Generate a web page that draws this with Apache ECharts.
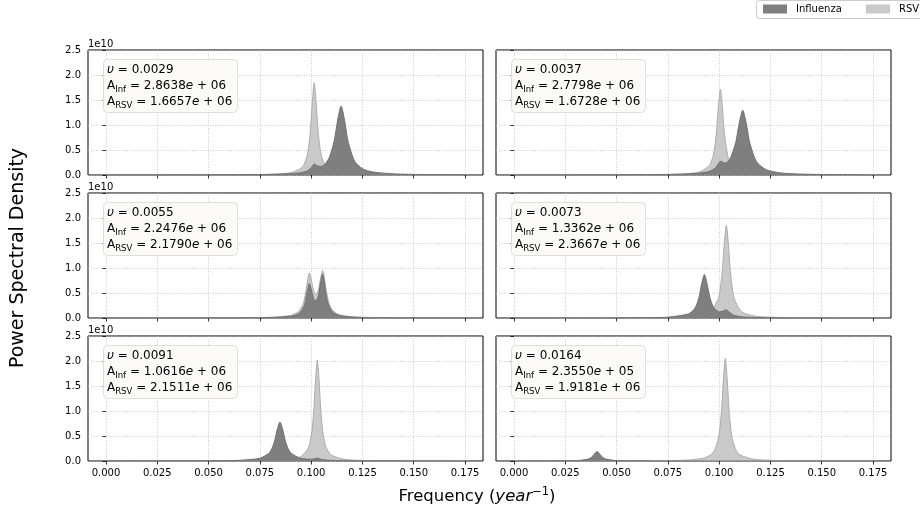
<!DOCTYPE html>
<html>
<head>
<meta charset="utf-8">
<script src="https://cdn.jsdelivr.net/npm/echarts@6/dist/echarts.min.js"></script>
<style>
  html, body { margin: 0; padding: 0; background: #ffffff; }
  #chart { width: 920px; height: 512px; }
</style>
</head>
<body>
<div id="chart"></div>
<script>
// Per-panel parameters: coupling strength and amplitudes of the two pathogens
const PANEL_NU = [0.0029, 0.0037, 0.0055, 0.0073, 0.0091, 0.0164];
const PANEL_A_INF = [2.8638e6, 2.7798e6, 2.2476e6, 1.3362e6, 1.0616e6, 2.3550e5];
const PANEL_A_RSV = [1.6657e6, 1.6728e6, 2.1790e6, 2.3667e6, 2.1511e6, 1.9181e6];

const SERIES_NAMES = ['Influenza', 'RSV'];
const Y_TICKS = [0, 0.5, 1.0, 1.5, 2.0, 2.5];   // in units of 1e10
const X_TICK_STEP = 0.025;                       // frequency tick spacing (1/year)

// Power spectral densities, [frequency, PSD / 1e10]
const inf1 = [[0,0.001],[0.03,0.002],[0.06,0.005],[0.08,0.013],[0.09,0.027],[0.095,0.047],[0.098,0.079],[0.1,0.146],[0.1015,0.222],[0.103,0.182],[0.105,0.173],[0.107,0.231],[0.109,0.363],[0.1113,0.694],[0.113,1.12],[0.1146,1.382],[0.1163,1.09],[0.118,0.67],[0.1212,0.276],[0.125,0.127],[0.13,0.061],[0.14,0.023],[0.155,0.009],[0.175,0.004]];
const rsv1 = [[0,0.001],[0.03,0.001],[0.06,0.004],[0.08,0.013],[0.09,0.045],[0.095,0.132],[0.0965,0.213],[0.098,0.387],[0.0988,0.568],[0.0997,0.922],[0.1006,1.474],[0.1015,1.843],[0.1024,1.476],[0.1033,0.924],[0.1042,0.573],[0.1051,0.373],[0.1065,0.218],[0.108,0.141],[0.111,0.087],[0.1146,0.084],[0.118,0.046],[0.125,0.015],[0.14,0.005],[0.175,0.001]];

const inf2 = [[0,0.001],[0.03,0.002],[0.06,0.006],[0.08,0.016],[0.09,0.037],[0.095,0.069],[0.098,0.133],[0.0996,0.222],[0.1006,0.274],[0.1016,0.261],[0.1025,0.241],[0.1035,0.245],[0.1055,0.336],[0.1081,0.655],[0.1098,1.039],[0.1115,1.295],[0.1132,1.036],[0.1149,0.648],[0.1183,0.26],[0.123,0.105],[0.13,0.042],[0.14,0.018],[0.155,0.008],[0.175,0.004]];
const rsv2 = [[0,0.001],[0.03,0.001],[0.06,0.004],[0.08,0.015],[0.09,0.055],[0.095,0.178],[0.0968,0.345],[0.098,0.598],[0.0987,0.859],[0.0997,1.401],[0.1006,1.715],[0.1015,1.402],[0.1025,0.862],[0.1044,0.353],[0.107,0.16],[0.11,0.117],[0.1115,0.11],[0.115,0.058],[0.12,0.024],[0.13,0.009],[0.145,0.003],[0.175,0.001]];

const inf3 = [[0,0],[0.03,0.001],[0.06,0.003],[0.08,0.01],[0.09,0.035],[0.094,0.089],[0.0964,0.225],[0.0973,0.352],[0.0982,0.551],[0.0991,0.689],[0.1,0.582],[0.1012,0.387],[0.1023,0.343],[0.1035,0.444],[0.1047,0.727],[0.1056,0.88],[0.1065,0.703],[0.1074,0.446],[0.1083,0.28],[0.1108,0.104],[0.115,0.038],[0.125,0.01],[0.14,0.004],[0.175,0.001]];
const rsv3 = [[0,0.001],[0.03,0.001],[0.06,0.004],[0.08,0.014],[0.09,0.052],[0.094,0.135],[0.0961,0.291],[0.0971,0.459],[0.0981,0.718],[0.0991,0.901],[0.1001,0.763],[0.1011,0.558],[0.1023,0.468],[0.1036,0.576],[0.1046,0.799],[0.1056,0.95],[0.1066,0.758],[0.1076,0.483],[0.1096,0.205],[0.113,0.077],[0.12,0.024],[0.13,0.009],[0.145,0.004],[0.175,0.001]];

const inf4 = [[0,0.001],[0.03,0.001],[0.06,0.005],[0.075,0.017],[0.085,0.082],[0.0878,0.175],[0.0891,0.273],[0.0903,0.436],[0.0916,0.707],[0.0928,0.87],[0.094,0.709],[0.0953,0.44],[0.0965,0.28],[0.0978,0.186],[0.1003,0.121],[0.1025,0.15],[0.1035,0.165],[0.1045,0.134],[0.107,0.056],[0.112,0.021],[0.12,0.009],[0.135,0.003],[0.155,0.001],[0.175,0.001]];
const rsv4 = [[0,0.001],[0.03,0.001],[0.06,0.004],[0.08,0.015],[0.09,0.062],[0.0928,0.113],[0.096,0.142],[0.0995,0.376],[0.1005,0.574],[0.1015,0.929],[0.1025,1.483],[0.1035,1.853],[0.1045,1.482],[0.1055,0.927],[0.1065,0.571],[0.1075,0.372],[0.111,0.125],[0.118,0.035],[0.13,0.011],[0.15,0.003],[0.175,0.001]];

const inf5 = [[0,0.001],[0.03,0.002],[0.05,0.005],[0.065,0.014],[0.075,0.055],[0.0794,0.156],[0.0808,0.245],[0.0821,0.39],[0.0835,0.634],[0.0848,0.78],[0.0861,0.634],[0.0875,0.39],[0.0888,0.245],[0.0902,0.157],[0.095,0.053],[0.1,0.035],[0.1013,0.041],[0.103,0.057],[0.1047,0.035],[0.106,0.023],[0.112,0.009],[0.125,0.004],[0.145,0.002],[0.175,0.001]];
const rsv5 = [[0,0.001],[0.03,0.001],[0.06,0.004],[0.075,0.01],[0.0848,0.048],[0.09,0.04],[0.095,0.089],[0.0985,0.252],[0.0996,0.405],[0.1005,0.639],[0.1013,1.011],[0.1022,1.655],[0.103,2.021],[0.1038,1.655],[0.1047,1.011],[0.1055,0.639],[0.1064,0.405],[0.1075,0.252],[0.11,0.113],[0.117,0.029],[0.13,0.008],[0.15,0.003],[0.175,0.001]];

const inf6 = [[0,0.001],[0.015,0.001],[0.025,0.004],[0.032,0.012],[0.0361,0.038],[0.0372,0.058],[0.0383,0.095],[0.0394,0.152],[0.0405,0.19],[0.0416,0.152],[0.0427,0.095],[0.0438,0.058],[0.0449,0.038],[0.049,0.012],[0.056,0.004],[0.07,0.001],[0.09,0],[0.12,0],[0.175,0]];
const rsv6 = [[0,0.001],[0.03,0.001],[0.06,0.004],[0.075,0.008],[0.085,0.02],[0.092,0.054],[0.0958,0.121],[0.0976,0.205],[0.0994,0.41],[0.1003,0.631],[0.1012,1.025],[0.1021,1.64],[0.103,2.05],[0.1039,1.64],[0.1048,1.025],[0.1057,0.631],[0.1066,0.41],[0.1084,0.205],[0.1102,0.121],[0.117,0.033],[0.13,0.009],[0.15,0.003],[0.175,0.001]];

const INF_DATA = [inf1, inf2, inf3, inf4, inf5, inf6];
const RSV_DATA = [rsv1, rsv2, rsv3, rsv4, rsv5, rsv6];

// ---- layout ----
const FONT = 'DejaVu Sans';
const FRAME_LEFT = [88, 496];
const FRAME_W = 395;
const ROW_TOP = [50, 193, 336];
const ROW_H = 125;
const DATA_MIN = 0, DATA_MAX = 0.175;
const PAD = (DATA_MAX - DATA_MIN) * 0.05;          // 5% margin on each side
const VIEW_MIN = DATA_MIN - PAD, VIEW_MAX = DATA_MAX + PAD;

const COLORS = {
  Influenza: { fill: '#7f7f7f', edge: '#707070' },
  RSV: { fill: '#c9c9c9', edge: '#ababab' }
};
const GRID_LINE = { color: '#bcbcbc', width: 0.8, type: [1, 1.6] };

function fmtAmp(v) {
  const parts = v.toExponential(4).split('e');
  const sign = parts[1][0];
  let exp = parts[1].slice(1);
  if (exp.length < 2) exp = '0' + exp;
  return parts[0] + '{i|e}' + ' ' + sign + ' ' + exp;
}

const grids = [], xAxes = [], yAxes = [], series = [], titles = [], graphics = [];

for (let p = 0; p < 6; p++) {
  const row = Math.floor(p / 2), col = p % 2;
  const fl = FRAME_LEFT[col], top = ROW_TOP[row];
  const dl = fl + FRAME_W * (DATA_MIN - VIEW_MIN) / (VIEW_MAX - VIEW_MIN);
  const dw = FRAME_W * (DATA_MAX - DATA_MIN) / (VIEW_MAX - VIEW_MIN);
  const gFrame = grids.length;

  // frame grid: full axes box with y ticks and horizontal grid lines
  grids.push({ left: fl, top: top, width: FRAME_W, height: ROW_H, show: true,
    borderColor: '#000', borderWidth: 1, backgroundColor: 'transparent', containLabel: false });
  xAxes.push({ type: 'value', gridIndex: gFrame, min: VIEW_MIN, max: VIEW_MAX, show: false });
  yAxes.push({ type: 'value', gridIndex: gFrame, min: 0, max: 2.5, interval: 0.5,
    axisLine: { show: false },
    axisTick: { show: true, inside: false, length: 3.5, lineStyle: { color: '#000', width: 0.8 } },
    axisLabel: { show: col === 0, margin: 7, fontSize: 10, fontFamily: FONT, color: '#000',
      formatter: v => v.toFixed(1) },
    splitLine: { show: true, lineStyle: GRID_LINE } });

  // data grid: spans the frequency range, carries x ticks and series
  const gData = grids.length;
  grids.push({ left: dl, top: top, width: dw, height: ROW_H, show: false, containLabel: false });
  xAxes.push({ type: 'value', gridIndex: gData, min: DATA_MIN, max: DATA_MAX, interval: X_TICK_STEP,
    position: 'bottom',
    axisLine: { show: false },
    axisTick: { show: true, inside: false, length: 3.5, lineStyle: { color: '#000', width: 0.8 } },
    axisLabel: { show: row === 2, margin: 7, fontSize: 10, fontFamily: FONT, color: '#000',
      formatter: v => v.toFixed(3) },
    splitLine: { show: true, lineStyle: GRID_LINE } });
  yAxes.push({ type: 'value', gridIndex: gData, min: 0, max: 2.5, show: false });

  const mk = (name, data, z) => ({
    type: 'line', name: name, xAxisIndex: gData, yAxisIndex: gData, data: data,
    showSymbol: false, symbol: 'none', silent: true, z: z,
    smooth: 0.25,
    itemStyle: { color: COLORS[name].fill },
    lineStyle: { color: COLORS[name].edge, width: 1 },
    areaStyle: { color: COLORS[name].fill, opacity: 1 }
  });
  series.push(mk('RSV', RSV_DATA[p], 2));
  series.push(mk('Influenza', INF_DATA[p], 3));

  // annotation box
  titles.push({
    left: fl + 15, top: top + 9,
    text: '{i|\u03c5} = ' + PANEL_NU[p].toFixed(4) +
      '\nA{s|Inf} = ' + fmtAmp(PANEL_A_INF[p]) +
      '\nA{s|RSV} = ' + fmtAmp(PANEL_A_RSV[p]),
    padding: [3, 5, 3, 4],
    backgroundColor: 'rgba(251,250,246,0.92)',
    borderColor: '#e0ded8', borderWidth: 1, borderRadius: 4,
    textStyle: {
      fontSize: 12, fontWeight: 'normal', fontFamily: FONT, color: '#000', lineHeight: 16,
      rich: {
        i: { fontSize: 12, fontStyle: 'italic', fontFamily: FONT, color: '#000', lineHeight: 16 },
        s: { fontSize: 8.5, fontFamily: FONT, color: '#000', lineHeight: 9, verticalAlign: 'bottom' }
      }
    }
  });

  // offset text of the y scale
  if (col === 0) {
    graphics.push({ type: 'text', x: fl, y: top - 1, silent: true,
      style: { text: '1e10', fontSize: 10, fontFamily: FONT, fill: '#000',
        align: 'left', verticalAlign: 'bottom' } });
  }
}

graphics.push({ type: 'text', x: 18, y: 258, rotation: Math.PI / 2, silent: true,
  style: { text: 'Power Spectral Density', fontSize: 19, fontFamily: FONT, fill: '#000',
    align: 'center', verticalAlign: 'middle' } });

graphics.push({ type: 'text', x: 477, y: 497, silent: true,
  style: {
    text: '{n|Frequency (}{i|year}{sup|\u22121}{n|)}',
    align: 'center', verticalAlign: 'middle',
    rich: {
      n: { fontSize: 16.5, fontFamily: FONT, fill: '#000', lineHeight: 22 },
      i: { fontSize: 16.5, fontFamily: FONT, fontStyle: 'italic', fill: '#000', lineHeight: 22 },
      sup: { fontSize: 11.5, fontFamily: FONT, fill: '#000', lineHeight: 11, verticalAlign: 'top' }
    }
  } });

// legend frame (runs past the right edge of the canvas)
graphics.push({ type: 'rect', silent: true, z: 0,
  shape: { x: 756.5, y: 0.5, width: 180, height: 18, r: 3 },
  style: { fill: '#ffffff', stroke: '#cccccc', lineWidth: 1 } });

const legendCommon = {
  top: 4, orient: 'horizontal', icon: 'rect', itemWidth: 24, itemHeight: 9,
  padding: 0, selectedMode: false, z: 10,
  textStyle: { fontSize: 10, fontFamily: FONT, color: '#000', padding: [0, 0, 0, 4] }
};

const chart = echarts.init(document.getElementById('chart'), null, { renderer: 'canvas' });
chart.setOption({
  animation: false,
  backgroundColor: '#ffffff',
  textStyle: { fontFamily: FONT },
  legend: [
    Object.assign({}, legendCommon, { data: [SERIES_NAMES[0]], left: 763 }),
    Object.assign({}, legendCommon, { data: [SERIES_NAMES[1]], left: 866 })
  ],
  title: titles,
  grid: grids,
  xAxis: xAxes,
  yAxis: yAxes,
  series: series,
  graphic: graphics
});
</script>
</body>
</html>
